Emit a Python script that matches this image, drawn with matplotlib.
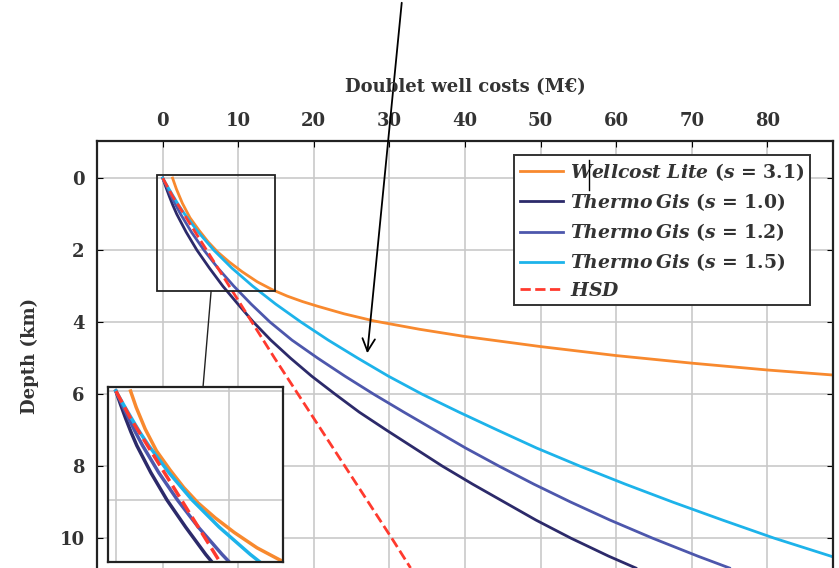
import numpy as np
import matplotlib
matplotlib.use("Agg")
import matplotlib.pyplot as plt
from matplotlib.patches import Rectangle, ConnectionPatch

plt.rcParams['font.family'] = ['DejaVu Serif']
plt.rcParams['mathtext.fontset'] = 'custom'
plt.rcParams['mathtext.it'] = 'DejaVu Serif:italic:bold'
plt.rcParams['mathtext.rm'] = 'DejaVu Serif:bold'

# values: cost (M€) vs depth (km)
wl_cost = [1.3, 1.8, 2.6, 3.6, 4.8, 6.0, 7.3, 8.8, 10.5, 12.5, 14.5, 16.5, 18.5, 20.5,
           24.0, 28.0, 34.0, 40.0, 50.0, 60.0, 70.0, 80.0, 88.7]
wl_depth = [0.0, 0.3, 0.7, 1.1, 1.45, 1.77, 2.06, 2.33, 2.6, 2.88, 3.1, 3.28, 3.43, 3.56,
            3.77, 3.97, 4.2, 4.4, 4.68, 4.93, 5.14, 5.33, 5.47]

tg_depth = [0.0, 0.25, 0.5, 0.75, 1.0, 1.5, 2.0, 2.5, 3.0, 3.5, 4.0, 4.5, 5.0, 5.5,
            6.0, 6.5, 7.0, 7.5, 8.0, 8.5, 9.0, 9.5, 10.0, 10.5, 10.83]
tg10_cost = [0.0, 0.42, 0.86, 1.33, 1.85, 3.1, 4.52, 6.18, 7.95, 9.95, 12.0, 14.3, 16.9, 19.7,
             22.8, 26.0, 29.6, 33.3, 37.0, 41.0, 45.2, 49.4, 54.0, 59.0, 62.6]
tg12_cost = [0.0, 0.55, 1.12, 1.72, 2.36, 3.8, 5.45, 7.3, 9.4, 11.7, 14.2, 17.1, 20.5, 24.1,
             27.9, 31.9, 36.0, 40.1, 44.5, 49.1, 54.0, 59.2, 64.8, 70.8, 75.0]
tg15_cost = [0.0, 0.68, 1.38, 2.1, 2.9, 4.7, 6.75, 9.15, 11.9, 14.95, 18.3, 21.9, 25.8, 29.85,
             34.3, 39.2, 44.3, 49.5, 55.2, 61.2, 67.5, 74.1, 80.9, 88.4, 93.0]

hsd_depth = [0.0, 0.5, 1.0, 1.5, 2.0, 2.5, 3.0, 4.0, 5.0, 6.0, 7.0, 8.0, 9.0, 10.0, 10.83]
hsd_cost = [0.0, 1.3, 2.8, 4.3, 5.8, 7.3, 8.8, 11.8, 14.8, 17.9, 21.0, 24.1, 27.2, 30.3, 32.8]

labels = [r"$Wellcost\ Lite$ ($s$ = 3.1)",
          r"$Thermo\,Gis$ ($s$ = 1.0)",
          r"$Thermo\,Gis$ ($s$ = 1.2)",
          r"$Thermo\,Gis$ ($s$ = 1.5)",
          r"$HSD$"]

series = [(wl_cost, wl_depth, "#F8892E", "-"),
          (tg10_cost, tg_depth, "#2C2A6A", "-"),
          (tg12_cost, tg_depth, "#4D57AC", "-"),
          (tg15_cost, tg_depth, "#1DB3EA", "-"),
          (hsd_cost, hsd_depth, "#FF3A2E", "--")]

fig = plt.figure(figsize=(8.39, 5.68), dpi=100)
ax = fig.add_axes([97/839, 0.0, 736/839, 427/568])

for (c, d, col, ls), lab in zip(series, labels):
    ax.plot(c, d, color=col, ls=ls, lw=2.0, label=lab)

ax.set_xlim(-8.7, 88.7)
ax.set_ylim(10.83, -1.03)
ax.xaxis.tick_top()
ax.set_xticks(np.arange(0, 81, 10))
ax.set_yticks(np.arange(0, 11, 2))
ax.grid(True, color="#C9C9C9", lw=1.2)
ax.set_axisbelow(True)
ax.tick_params(axis="x", direction="in", length=4, pad=8, labelsize=13, top=True, bottom=False)
ax.tick_params(axis="y", direction="in", length=4, pad=9, labelsize=13, left=True, right=True)
for t in ax.get_xticklabels() + ax.get_yticklabels():
    t.set_fontweight("bold")
    t.set_color("#333333")
for s in ax.spines.values():
    s.set_linewidth(1.6)
    s.set_color("#222222")
ax.spines["bottom"].set_visible(False)

leg = ax.legend(loc="upper right", bbox_to_anchor=(0.969, 0.967), borderaxespad=0,
                fancybox=False, framealpha=1, edgecolor="#333333",
                handlelength=2.3, handletextpad=0.4, labelspacing=0.45,
                borderpad=0.3, prop={"family": "DejaVu Serif", "weight": "bold", "size": 13.5})
leg.get_frame().set_linewidth(1.4)
for t in leg.get_texts():
    t.set_color("#333333")

# zoom rectangle
ax.add_patch(Rectangle((-0.7, -0.075), 15.5, 3.215, fill=False, ec="#222222", lw=1.3, zorder=5))

# inset
axin = fig.add_axes([108/839, 6/568, 175/839, 175/568])
for c, d, col, ls in series:
    axin.plot(c, d, color=col, ls=ls, lw=2.5)
axin.set_xlim(-0.7, 14.8)
axin.set_ylim(3.14, -0.075)
axin.set_xticks([0, 10])
axin.set_yticks([0, 2])
axin.grid(True, color="#C9C9C9", lw=1.2)
axin.set_axisbelow(True)
axin.tick_params(length=0, labelbottom=False, labelleft=False)
for s in axin.spines.values():
    s.set_linewidth(1.6)
    s.set_color("#222222")

con = ConnectionPatch(xyA=(6.4, 3.14), coordsA=ax.transData,
                      xyB=(0.543, 1.0), coordsB=axin.transAxes,
                      color="#222222", lw=1.0)
fig.add_artist(con)

fig.text(465/839, 1 - 87/568, "Doublet well costs (M€)", ha="center", va="center",
         fontsize=13, fontweight="bold", color="#333333")
fig.text(30/839, 1 - 356/568, "Depth (km)", ha="center", va="center", rotation=90,
         fontsize=13, fontweight="bold", color="#333333")

# arrow and cursor mark
fig.add_artist(plt.Line2D([589/839, 589/839], [1 - 160/568, 1 - 190/568], color="black", lw=1.0))
ax.annotate("", xy=(367/839, 1 - 356/568), xycoords="figure fraction",
            xytext=(402/839, 1.0), textcoords="figure fraction",
            arrowprops=dict(arrowstyle="->,head_length=0.9,head_width=0.45", lw=1.3, color="black"),
            annotation_clip=False, zorder=10)

fig.savefig("out.png", dpi=100)
